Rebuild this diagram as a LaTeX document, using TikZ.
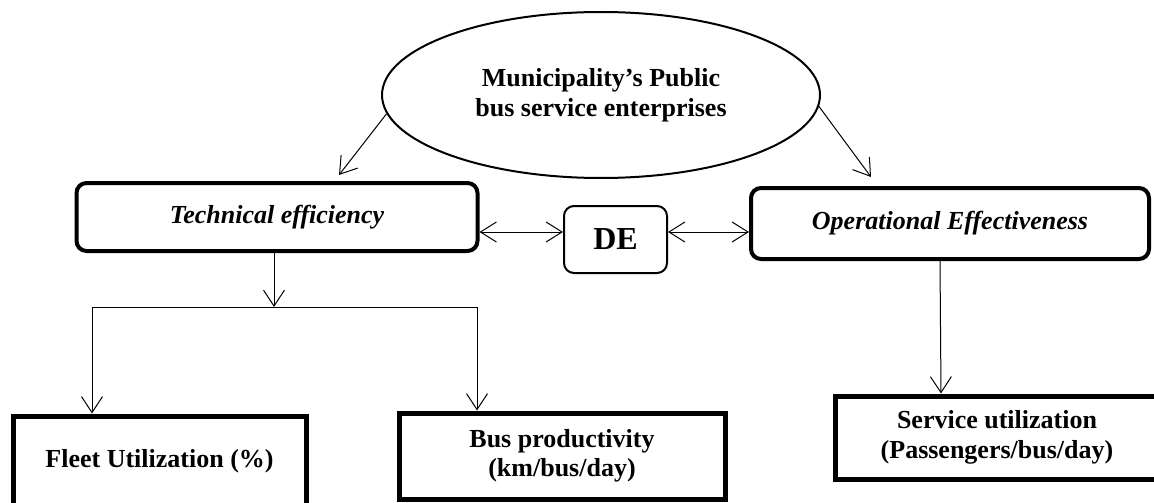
\documentclass[tikz,border=0pt]{standalone}
\usepackage{fontspec}
\setmainfont{Liberation Serif}
\usetikzlibrary{shapes.geometric,arrows.meta}
\tikzset{
  thin line/.style={line width=1pt},
  arr/.style={line width=1pt,-{Straight Barb[length=16pt,width=21pt,line width=1pt]}},
  dblarr/.style={line width=1pt,{Straight Barb[length=16pt,width=20pt,line width=1pt]}-{Straight Barb[length=16pt,width=20pt,line width=1pt]}},
  bigtext/.style={font=\fontsize{26}{29.5}\selectfont\bfseries, align=center},
  itext/.style={font=\fontsize{26}{29.5}\selectfont\bfseries\itshape, align=center},
  ellbox/.style={ellipse, draw, line width=2pt, inner sep=0pt, bigtext},
  rbox/.style={draw, rounded corners=10pt, inner sep=0pt, line width=4pt, itext},
  debox/.style={draw, rounded corners=10pt, inner sep=0pt, line width=2pt,
    font=\fontsize{32}{36}\selectfont\bfseries},
  sqbox/.style={draw, inner sep=0pt, line width=5pt, bigtext}
}
\begin{document}
\begin{tikzpicture}[x=1pt,y=-1pt]
\clip (0,0) rectangle (1154,503);
\fill[white] (0,0) rectangle (1154,503);

\node[ellbox, minimum width=438pt, minimum height=166pt] (ell) at (601,95)
  {Municipality’s Public\\bus service enterprises};

\node[rbox, minimum width=401pt, minimum height=68pt] (tech) at (277,217) {Technical efficiency};
\node[debox, minimum width=103pt, minimum height=67pt] (de) at (615.5,239.5) {DE};
\node[rbox, minimum width=398pt, minimum height=71pt] (op) at (950,223.5) {Operational Effectiveness};

\node[sqbox, minimum width=293pt, minimum height=90pt] (fleet) at (159.5,461) {Fleet Utilization (\%)};
\node[sqbox, minimum width=326pt, minimum height=86pt] (bus) at (562,456) {Bus productivity\\(km/bus/day)};
\node[sqbox, minimum width=324pt, minimum height=83pt] (serv) at (997,437.5) {Service utilization\\(Passengers/bus/day)};

\coordinate (t1) at (339,175);
\coordinate (t2) at (871,177);
\coordinate (j) at (274,307);
\coordinate (hl) at (92,307);
\coordinate (hr) at (477,307);

\draw[arr] (ell.185) -- (t1);
\draw[arr] (ell.357) -- (t2);

\draw[dblarr] (tech.east |- 0,232) -- (de.west |- 0,232);
\draw[dblarr] (de.east |- 0,232) -- (op.west |- 0,232);

\draw[arr] (tech.south -| j) -- (j);
\draw[thin line] (hl) -- (hr);
\draw[arr] (hl) -- (fleet.north -| hl);
\draw[arr] (hr) -- (bus.north -| hr);

\draw[arr] (op.south -| 940,0) -- (serv.north -| 941,0);
\end{tikzpicture}
\end{document}
